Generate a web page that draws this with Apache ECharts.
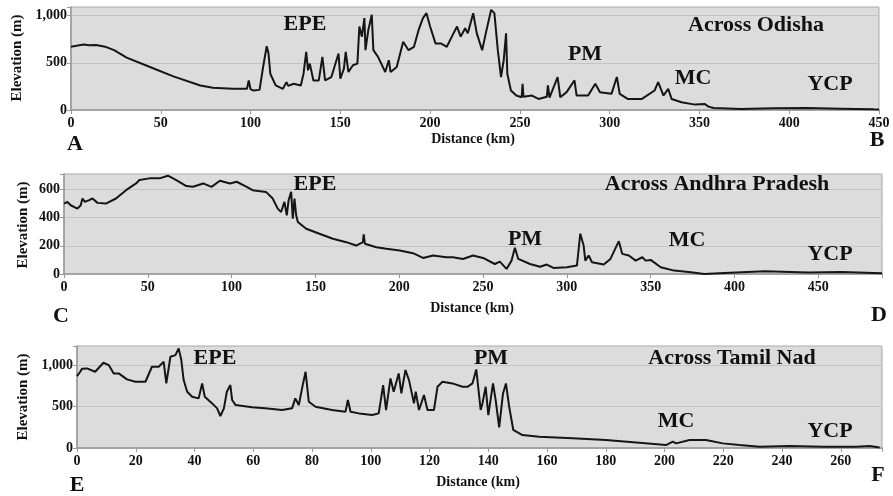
<!DOCTYPE html>
<html><head><meta charset="utf-8">
<script src="https://cdn.jsdelivr.net/npm/echarts@6/dist/echarts.min.js"></script>
<style>html,body{margin:0;padding:0;background:#fff}#c{width:893px;height:496px}</style>
</head><body><div id="c"></div>
<script>
// ---------- DATA ----------
const odishaKm = [0,3,7,10,14,19,24,31,44,57,72,79,90,98,99,100,101.6,105,107,109,110,111,114,118,120,121,122,124,128,129.5,131,132,133,135,138,140,141.5,145,149,150,152,153,154.5,157,159.5,160.6,162,163.4,164,165.6,167.5,168.4,171,175,177,178,181.4,185,188,191,193.6,196,198,200,203,206,209.3,213,215,217,219.5,221,224,226,229,231,234,235.8,237.7,239.5,241,242.3,243,245,248,251,251.5,252,253,256.7,260.4,265,265.6,266.5,271,272.5,276,280.4,281.6,288,292,294.6,301,304,305.6,310,318,325,327,330,332.6,334.5,340,347.5,353,355,358,373,391,410,428.5,447,450];
const odishaElev = [670,680,694,685,687,670,633,555,455,356,260,235,224,224,313,220,206,213,455,676,598,384,260,224,295,255,249,278,260,384,616,420,491,313,313,562,313,349,598,331,438,616,402,473,491,883,776,972,633,847,1007,633,562,402,527,402,455,722,633,669,847,972,1025,883,705,705,669,811,883,776,865,811,1025,811,633,811,1060,1025,633,349,527,811,384,206,153,135,278,140,135,153,117,140,260,130,349,135,189,313,153,153,278,189,171,349,171,117,117,206,295,153,224,117,82,57,64,36,21,11,18,21,14,7,6];

const andhraKm = [0,2,4,8,10,11,12.5,15,17,20,25,31,37,43,45,51,57,62,67,73,77,83,88,93,99,103,109,112.5,120.5,124.5,127.5,129.5,131.5,132.9,134,135.5,136.5,137.5,138.5,139.5,144.5,152.4,160.4,168.4,174.3,178.3,178.8,179.5,180.3,186.3,192.3,200.3,208.2,214.2,220.2,228,232,238,244,250,257,260,264,267,269,271,278,284,288,292,300,306,308,310,311,313,315,322,326,331,333,337,341,345,347,350,356,364,374,382,394,418,444,464,488];
const andhraElev = [500,512,488,464,488,536,512,524,536,505,500,536,595,643,667,679,679,698,667,624,619,643,619,662,643,655,619,595,583,536,464,440,512,417,524,583,393,536,417,369,321,286,250,226,202,226,281,215,202,190,179,167,148,114,131,119,119,107,131,114,71,88,36,95,186,107,71,52,67,43,48,60,286,202,95,131,83,67,107,233,143,131,95,119,95,100,48,24,12,0,7,19,10,14,5];

const tamilKm = [0,1.1,1.7,3.4,6.2,7.9,9,10.8,12.5,14.2,17,19.9,23.3,25.5,27.8,29.5,30.4,31.8,33.5,34.6,35.5,36.3,37.5,39.2,41.4,42.6,43.5,46,47.7,48.8,50,51,52.2,52.8,54,59.6,64,69.8,73.2,74.3,75.5,76.6,77.8,78.9,81.2,86.8,91.4,92.2,93.1,96,100.5,102.7,104.2,105.2,106.7,107.8,109.5,110.4,111.8,113,114.7,115.3,116.4,118.1,119.3,121.5,122.7,124.4,127.8,131.2,132.9,134.6,135.9,137.4,138,139.1,140,141.6,142.5,143.7,145,146,147.1,148.5,151.6,157.3,168.7,180,191.4,200.5,202.8,203.9,208.5,214.1,219.8,225.5,232.3,242.5,253.9,265.2,269.8,273.2];
const tamilElev = [870,923,960,964,923,990,1032,1004,903,903,831,802,802,984,984,1044,782,1105,1125,1206,1065,823,681,621,601,782,621,540,480,387,480,681,762,581,520,492,480,460,480,601,520,722,923,560,500,460,440,581,440,419,399,419,762,460,843,681,903,661,944,822,540,681,460,641,460,460,741,802,782,741,741,782,951,460,540,741,399,782,580,250,661,782,500,218,157,137,117,97,65,36,76,56,97,97,56,36,16,24,16,16,24,5];

const panelTitles = ['Across Odisha','Across Andhra Pradesh','Across Tamil Nad'];
const xTickStep = [50, 50, 20];
const yTickStep = [500, 200, 500];
// ---------------------------

const SERIF = '"Liberation Serif","Times New Roman",serif';
const grids = [
  {left:71, top:7, width:808, height:103},
  {left:64, top:174, width:818, height:100},
  {left:77, top:346, width:805, height:102}
];
const xMax = [450, 488, 274];
const yMax = [1090, 710, 1235];
const fmtNum = v => String(v).replace(/\B(?=(\d{3})+(?!\d))/g, ',');

const chart = echarts.init(document.getElementById('c'), null, {renderer:'canvas'});
const series = [[odishaKm, odishaElev],[andhraKm, andhraElev],[tamilKm, tamilElev]];

const option = {
  animation:false,
  backgroundColor:'#ffffff',
  grid: grids.map(g => Object.assign({show:true, backgroundColor:'#dcdcdc', borderColor:'#a9a9a9', borderWidth:1}, g)),
  xAxis: grids.map((g,i) => ({
    type:'value', gridIndex:i, min:0, max:xMax[i], interval:xTickStep[i],
    axisLine:{show:true, onZero:false, lineStyle:{color:'#999', width:1.5}},
    axisTick:{show:true, length:4, lineStyle:{color:'#999'}},
    splitLine:{show:false},
    axisLabel:{color:'#111', fontFamily:SERIF, fontWeight:'bold', fontSize:14, margin:6,
      formatter: v => (v % xTickStep[i] === 0 ? String(v) : '')}
  })),
  yAxis: grids.map((g,i) => ({
    type:'value', gridIndex:i, min:0, max:yMax[i], interval:yTickStep[i],
    axisLine:{show:true, lineStyle:{color:'#999', width:1.5}},
    axisTick:{show:true, length:4, lineStyle:{color:'#999'}},
    splitLine:{show:true, lineStyle:{color:'#c4c4c4', width:1}},
    axisLabel:{color:'#111', fontFamily:SERIF, fontWeight:'bold', fontSize:14, margin:4,
      formatter: v => (v % yTickStep[i] === 0 ? fmtNum(v) : '')}
  })),
  series: series.map((s,i) => ({
    type:'line', xAxisIndex:i, yAxisIndex:i, showSymbol:false, symbol:'none',
    data: s[0].map((k,j) => [k, s[1][j]]),
    lineStyle:{color:'#151515', width:2}
  })),
  graphic: {elements: []}
};

let gid = 0;
function txt(t, x, y, size, rot){
  const o = {type:'text', id:'t'+(gid++), x:x, y:y, z:100, zlevel:1, silent:true,
    style:{text:t, fill:'#111', font:'bold '+size+'px '+SERIF, textAlign:'center', textVerticalAlign:'middle', verticalAlign:'middle'}};
  if (rot) o.rotation = rot;
  option.graphic.elements.push(o);
}
// panel 1
txt('EPE',305,24,22); txt(panelTitles[0],756,25,22); txt('PM',585,54,22); txt('MC',693,78,22); txt('YCP',830,84,22);
// panel 2
txt('EPE',315,184,22); txt(panelTitles[1],717,184,22); txt('PM',525,239,22); txt('MC',687,240,22); txt('YCP',830,254,22);
// panel 3
txt('EPE',215,358,22); txt('PM',491,358,22); txt(panelTitles[2],732,358,22); txt('MC',676,421,22); txt('YCP',830,431,22);
// axis names
txt('Distance (km)',473,139,14); txt('Distance (km)',472,308,14); txt('Distance (km)',478,482,14);
txt('Elevation (m)',17,58,15,Math.PI/2); txt('Elevation (m)',23,225,15,Math.PI/2); txt('Elevation (m)',23,397,15,Math.PI/2);
// corner letters
txt('A',75,144,22); txt('B',877,140,22); txt('C',61,316,22); txt('D',879,315,22); txt('E',77,485,22); txt('F',878,475,22);

chart.setOption(option);
</script></body></html>
